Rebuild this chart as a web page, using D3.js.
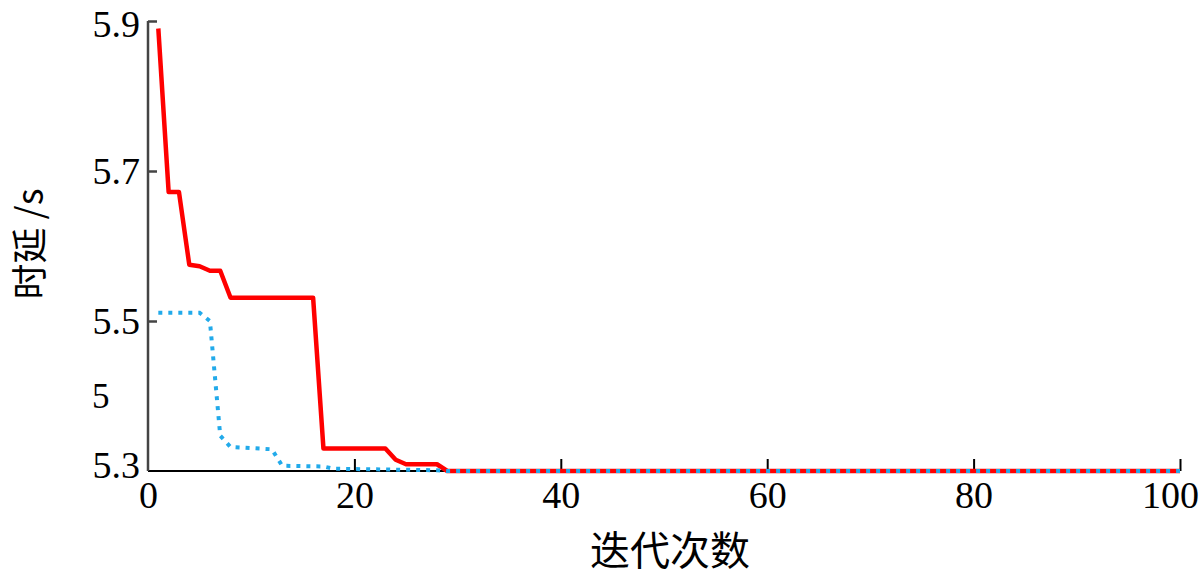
<!DOCTYPE html>
<html>
<head>
<meta charset="utf-8">
<script src="https://cdn.jsdelivr.net/npm/d3@7"></script>
<style>
  html, body { margin: 0; padding: 0; background: #fff; }
  svg { display: block; }
</style>
</head>
<body>
<svg id="chart" width="1200" height="584"></svg>
<script>
// ---- data ----
const redIters   = [1, 2, 3, 4, 5, 6, 7, 8, 16, 17, 23, 24, 25, 28, 29, 100];
const redValues  = [5.89, 5.672, 5.672, 5.575, 5.573, 5.567, 5.567, 5.531, 5.531, 5.33, 5.33, 5.315, 5.309, 5.309, 5.3, 5.3];
const blueIters  = [1, 5, 6, 7, 8, 12, 13, 17, 18, 28, 29, 100];
const blueValues = [5.511, 5.511, 5.5, 5.347, 5.332, 5.329, 5.307, 5.306, 5.303, 5.301, 5.3, 5.3];
const xTickValues = [0, 20, 40, 60, 80, 100];
const xTickLabels = ["0", "20", "40", "60", "80", "100"];
const yTickValues = [5.3, 5.4, 5.5, 5.7, 5.9];
const yTickLabels = ["5.3", "5", "5.5", "5.7", "5.9"];
const yTickMarked = [5.5, 5.7, 5.9];
const xTitle = "迭代次数";
const yTitle = "时延 /s";

// ---- layout ----
const svg = d3.select("#chart");
const x = d3.scaleLinear().domain([0, 100]).range([148, 1180]);
const y = d3.scaleLinear().domain([5.3, 5.9]).range([471, 21]);

const serif = "'Liberation Serif', 'Times New Roman', serif";

// x axis
const xAxis = d3.axisBottom(x)
  .tickValues(xTickValues)
  .tickSize(0)
  .tickPadding(10)
  .tickFormat((d, i) => xTickLabels[i]);
const gx = svg.append("g").attr("transform", `translate(0,${y(5.3)})`).call(xAxis);
gx.select(".domain").remove();
gx.selectAll("text")
  .attr("font-family", serif).attr("font-size", 38).attr("fill", "#000")
  .attr("dx", (d) => d === 100 ? -10 : 0);
gx.append("line").attr("x1", x(0)).attr("x2", x(100)).attr("y1", 0).attr("y2", 0)
  .attr("stroke", "#000").attr("stroke-width", 2);
gx.selectAll(".tick").filter(d => d > 0).append("line")
  .attr("y1", 0).attr("y2", -12).attr("stroke", "#000").attr("stroke-width", 2);

// y axis
const yAxis = d3.axisLeft(y)
  .tickValues(yTickValues)
  .tickSize(0)
  .tickPadding(8)
  .tickFormat((d, i) => yTickLabels[i]);
const gy = svg.append("g").attr("transform", `translate(${x(0)},0)`).call(yAxis);
gy.select(".domain").remove();
gy.selectAll("text")
  .attr("font-family", serif).attr("font-size", 38).attr("fill", "#000")
  .attr("dy", "0.34em");
gy.selectAll(".tick").filter(d => d === 5.3).select("text").attr("dy", "0.18em");
gy.selectAll(".tick").filter(d => d === 5.9).select("text").attr("dy", "0.42em");
gy.selectAll(".tick").filter(d => d === 5.4).select("text")
  .attr("text-anchor", "start").attr("x", -56).attr("font-size", 35);
gy.append("line").attr("x1", 0).attr("x2", 0).attr("y1", y(5.9)).attr("y2", y(5.3))
  .attr("stroke", "#444").attr("stroke-width", 2.5);
gy.selectAll(".tick").filter(d => yTickMarked.includes(d)).append("line")
  .attr("x1", 0).attr("x2", 9).attr("stroke", "#444").attr("stroke-width", 2.5);

// titles
svg.append("text")
  .attr("x", 670).attr("y", 565)
  .attr("text-anchor", "middle")
  .attr("font-family", "'Noto Sans CJK SC', sans-serif")
  .attr("font-size", 40).attr("fill", "#000")
  .text(xTitle);
svg.append("text")
  .attr("transform", "translate(43,244) rotate(-90)")
  .attr("text-anchor", "middle")
  .attr("font-family", "'Noto Sans CJK SC', sans-serif")
  .attr("font-size", 36).attr("fill", "#000")
  .attr("xml:space", "preserve")
  .text(yTitle);

// lines
const line = d3.line().x(d => x(d[0])).y(d => y(d[1]));
const redData = redIters.map((it, i) => [it, redValues[i]]);
const blueData = blueIters.map((it, i) => [it, blueValues[i]]);

svg.append("path").datum(redData).attr("d", line)
  .attr("fill", "none").attr("stroke", "#ff0000").attr("stroke-width", 4.5)
  .attr("stroke-linejoin", "round");
svg.append("path").datum(blueData).attr("d", line)
  .attr("fill", "none").attr("stroke", "#22aaea").attr("stroke-width", 4)
  .attr("stroke-dasharray", "4,6");
</script>
</body>
</html>
